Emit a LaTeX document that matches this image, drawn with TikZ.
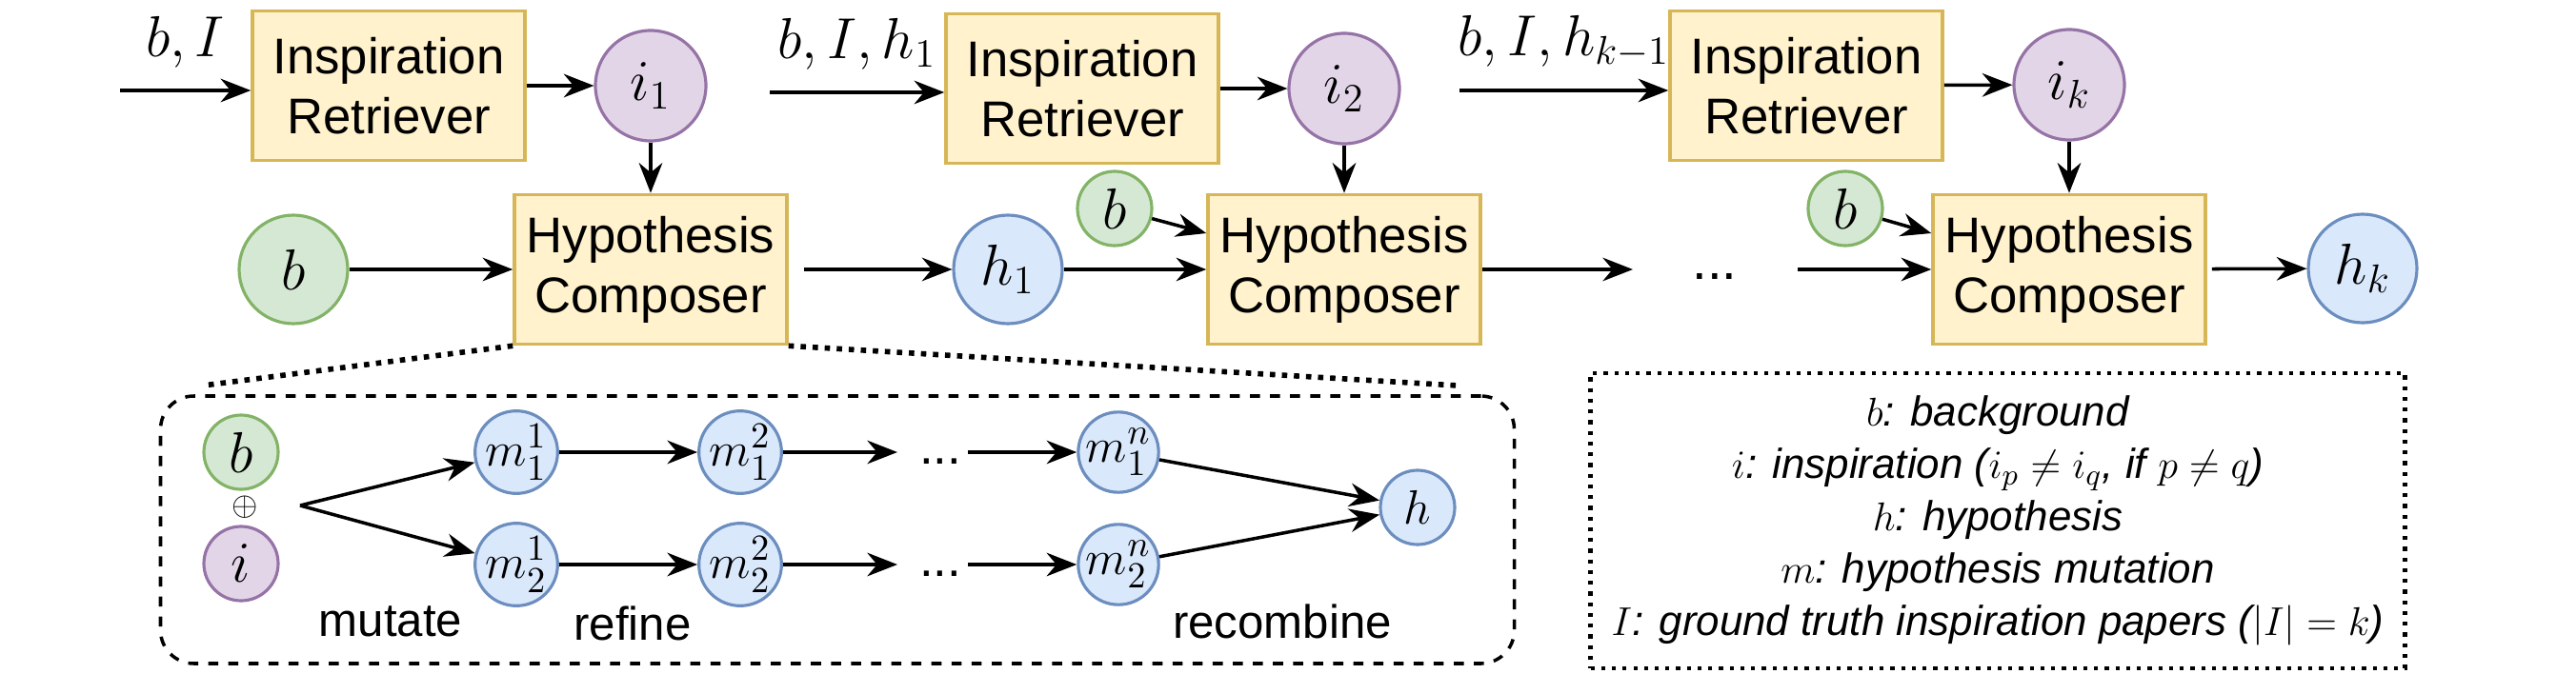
\documentclass[tikz,border=0pt]{standalone}
\usepackage{amsmath, amssymb}
\usepackage{fontspec}
\setmainfont{Liberation Sans}
\usetikzlibrary{arrows.meta}
\definecolor{boxfill}{HTML}{FFF2CC}
\definecolor{boxline}{HTML}{D6B656}
\definecolor{insfill}{HTML}{E1D5E7}
\definecolor{insline}{HTML}{9673A6}
\definecolor{bgfill}{HTML}{D5E8D4}
\definecolor{bgline}{HTML}{82B366}
\definecolor{hypfill}{HTML}{DAE8FC}
\definecolor{hypline}{HTML}{6C8EBF}
\tikzset{
  module/.style={rectangle, draw=boxline, fill=boxfill, line width=1pt, minimum width=2.86cm, minimum height=1.57cm, align=center, font=\fontsize{15}{18}\selectfont},
  insp/.style={circle, draw=insline, fill=insfill, line width=0.9pt, inner sep=0pt, minimum size=1.16cm, font=\fontsize{17}{20}\selectfont},
  bg/.style={circle, draw=bgline, fill=bgfill, line width=0.9pt, inner sep=0pt, minimum size=1.14cm, font=\fontsize{17}{20}\selectfont},
  hyp/.style={circle, draw=hypline, fill=hypfill, line width=0.9pt, inner sep=0pt, minimum size=1.14cm, font=\fontsize{17}{20}\selectfont},
  mini/.style={circle, draw=hypline, fill=hypfill, line width=0.9pt, inner sep=0pt, minimum size=0.78cm, font=\fontsize{15}{18}\selectfont},
  flow/.style={-{Stealth[length=9pt,width=7pt]}, line width=1pt},
  lbl/.style={font=\fontsize{17}{20}\selectfont},
}
\begin{document}
\begin{tikzpicture}
\useasboundingbox (0,0) rectangle (27.04,-7.07);
% step 1
\node[module] (ir1) at (4.08,-0.90) {Inspiration\\Retriever};
\node[insp] (i1) at (6.83,-0.90) {$i_1$};
\node[module] (hc1) at (6.83,-2.83) {Hypothesis\\Composer};
\node[bg] (b1) at (3.08,-2.83) {$b$};
\node[hyp] (h1) at (10.58,-2.83) {$h_1$};
\coordinate (in1) at (1.26,-0.95);
\draw[flow] (in1) -- node[lbl, above=3pt] {$b,I$} (ir1.west |- in1);
\draw[flow] (ir1) -- (i1);
\draw[flow] (i1) -- (hc1);
\draw[flow] (b1) -- (hc1);
\draw[flow, shorten <=0.16cm] (hc1) -- (h1);
% step 2
\node[module] (ir2) at (11.36,-0.93) {Inspiration\\Retriever};
\node[insp] (i2) at (14.11,-0.93) {$i_2$};
\node[module] (hc2) at (14.11,-2.83) {Hypothesis\\Composer};
\node[bg, minimum size=0.78cm] (b2) at (11.70,-2.19) {$b$};
\coordinate (in2) at (8.08,-0.97);
\draw[flow] (in2) -- node[lbl, above=3pt] {$b,I,h_1$} (ir2.west |- in2);
\draw[flow] (ir2) -- (i2);
\draw[flow] (i2) -- (hc2);
\draw[flow] (b2) -- (hc2.west |- 0,-2.45);
\draw[flow] (h1) -- (hc2);
% step k
\node[module] (ir3) at (18.96,-0.90) {Inspiration\\Retriever};
\node[insp] (ik) at (21.72,-0.89) {$i_k$};
\node[module] (hc3) at (21.72,-2.83) {Hypothesis\\Composer};
\node[bg, minimum size=0.78cm] (b3) at (19.37,-2.19) {$b$};
\node[hyp] (hk) at (24.80,-2.82) {$h_k$};
\node[font=\fontsize{16}{18}\selectfont] (dots) at (18.00,-2.90) {...};
\coordinate (in3) at (15.32,-0.95);
\coordinate (gap1) at (17.14,-2.83);
\coordinate (gap2) at (18.87,-2.83);
\draw[flow] (in3) -- node[lbl, above=3pt] {$b,I,h_{k-1}$} (ir3.west |- in3);
\draw[flow] (ir3) -- (ik);
\draw[flow] (ik) -- (hc3);
\draw[flow] (b3) -- (hc3.west |- 0,-2.45);
\draw[flow] (hc2) -- (gap1);
\draw[flow] (gap2) -- (hc3);
\draw[flow, shorten <=0.05cm] (hc3) -- (hk);
% zoom into composer
\coordinate (zl) at (2.13,-4.05);
\coordinate (zr) at (15.30,-4.05);
\draw[line width=1.6pt, dotted] (hc1.south west) -- (zl);
\draw[line width=1.6pt, dotted] (hc1.south east) -- (zr);
\node[draw, dashed, line width=1pt, rounded corners=0.35cm, minimum width=14.21cm, minimum height=2.81cm] (inset) at (8.79,-5.565) {};
\node[bg, minimum size=0.78cm] (bi) at (2.53,-4.75) {$b$};
\node[font=\fontsize{10}{12}\selectfont, inner sep=0pt] (plus) at (2.57,-5.33) {$\oplus$};
\node[insp, minimum size=0.78cm] (ii) at (2.53,-5.92) {$i$};
\coordinate (split) at (3.15,-5.31);
\node[mini] (m11) at (5.42,-4.75) {$m_1^1$};
\node[mini] (m12) at (7.77,-4.75) {$m_1^2$};
\node[mini] (m1n) at (11.74,-4.75) {$m_1^n$};
\node[mini] (m21) at (5.42,-5.93) {$m_2^1$};
\node[mini] (m22) at (7.77,-5.93) {$m_2^2$};
\node[mini] (m2n) at (11.74,-5.93) {$m_2^n$};
\node[mini] (hf) at (14.88,-5.33) {$h$};
\node[font=\fontsize{15}{16}\selectfont] (d1) at (9.87,-4.85) {...};
\node[font=\fontsize{15}{16}\selectfont] (d2) at (9.87,-6.03) {...};
\coordinate (a1) at (9.42,-4.75);
\coordinate (a2) at (9.42,-5.93);
\coordinate (c1) at (10.16,-4.75);
\coordinate (c2) at (10.16,-5.93);
\draw[flow] (split) -- (m11);
\draw[flow] (split) -- (m21);
\draw[flow] (m11) -- (m12);
\draw[flow] (m21) -- (m22);
\draw[flow] (m12) -- (a1);
\draw[flow] (m22) -- (a2);
\draw[flow] (c1) -- (m1n);
\draw[flow] (c2) -- (m2n);
\draw[flow] (m1n) -- (hf);
\draw[flow] (m2n) -- (hf);
\node[font=\fontsize{14}{16}\selectfont] at (4.10,-6.53) {mutate};
\node[font=\fontsize{14}{16}\selectfont] at (6.64,-6.55) {refine};
\node[font=\fontsize{14}{16}\selectfont] at (13.46,-6.53) {recombine};
% legend
\node[draw, dotted, line width=1.2pt, minimum width=8.55cm, minimum height=3.1cm, align=center, font=\fontsize{12.5}{15.6}\selectfont\itshape] (legend) at (20.97,-5.47)
  {$b$: background\\ $i$: inspiration ($i_p \neq i_q$, if $p \neq q$)\\ $h$: hypothesis\\ $m$: hypothesis mutation\\ $I$: ground truth inspiration papers ($|I| = k$)};
\end{tikzpicture}
\end{document}
